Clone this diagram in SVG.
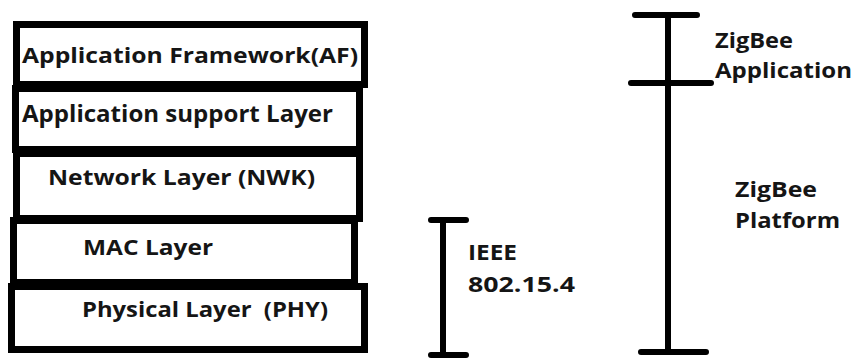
<svg xmlns="http://www.w3.org/2000/svg" width="855" height="358" viewBox="0 0 855 358">
<style>
.box{fill:#fff;stroke:#000;stroke-width:7}
.br{stroke:#000;stroke-width:6;stroke-linecap:round;fill:none}
text{font-family:"Open Sans","Liberation Sans",sans-serif;font-weight:700;fill:#151515;white-space:pre}
.t{font-size:22px}
.r{font-size:21px}
</style>
<rect width="855" height="358" fill="#fff"/>
<g id="af"><rect class="box" x="16.5" y="24.5" width="348" height="60"/>
<text class="t" x="22" y="63" textLength="336" lengthAdjust="spacingAndGlyphs">Application Framework(AF)</text></g>
<g id="aps"><rect class="box" x="15.5" y="88.5" width="344" height="61"/>
<text class="t" x="22" y="122" style="font-size:23px" textLength="311" lengthAdjust="spacingAndGlyphs">Application support Layer</text></g>
<g id="nwk"><rect class="box" x="16.5" y="153.5" width="343" height="65"/>
<text class="t" x="48" y="185" textLength="267" lengthAdjust="spacingAndGlyphs">Network Layer (NWK)</text></g>
<g id="mac"><rect class="box" x="13.5" y="220.5" width="341" height="62"/>
<text class="t" x="83" y="255" textLength="130" lengthAdjust="spacingAndGlyphs">MAC Layer</text></g>
<g id="phy"><rect class="box" x="11.5" y="286.5" width="353" height="63"/>
<text class="t" x="82" y="317" textLength="246" lengthAdjust="spacingAndGlyphs">Physical Layer  (PHY)</text></g>
<g id="connectors">
<path class="br" d="M431 220H466M443 220V355M431 355H466"/>
<path class="br" d="M635 15H697M668 15V352M631 83H711M641 352H706"/>
</g>
<g id="ieee">
<text class="r" x="468" y="260" textLength="49" lengthAdjust="spacingAndGlyphs">IEEE</text>
<text class="r" x="468" y="292" textLength="107" lengthAdjust="spacingAndGlyphs">802.15.4</text></g>
<g id="zbapp">
<text class="r" x="715" y="48" textLength="78" lengthAdjust="spacingAndGlyphs">ZigBee</text>
<text class="r" x="715" y="78" textLength="137" lengthAdjust="spacingAndGlyphs">Application</text></g>
<g id="zbplat">
<text class="r" x="735" y="197" textLength="82" lengthAdjust="spacingAndGlyphs">ZigBee</text>
<text class="r" x="735" y="228" textLength="105" lengthAdjust="spacingAndGlyphs">Platform</text></g>
</svg>
